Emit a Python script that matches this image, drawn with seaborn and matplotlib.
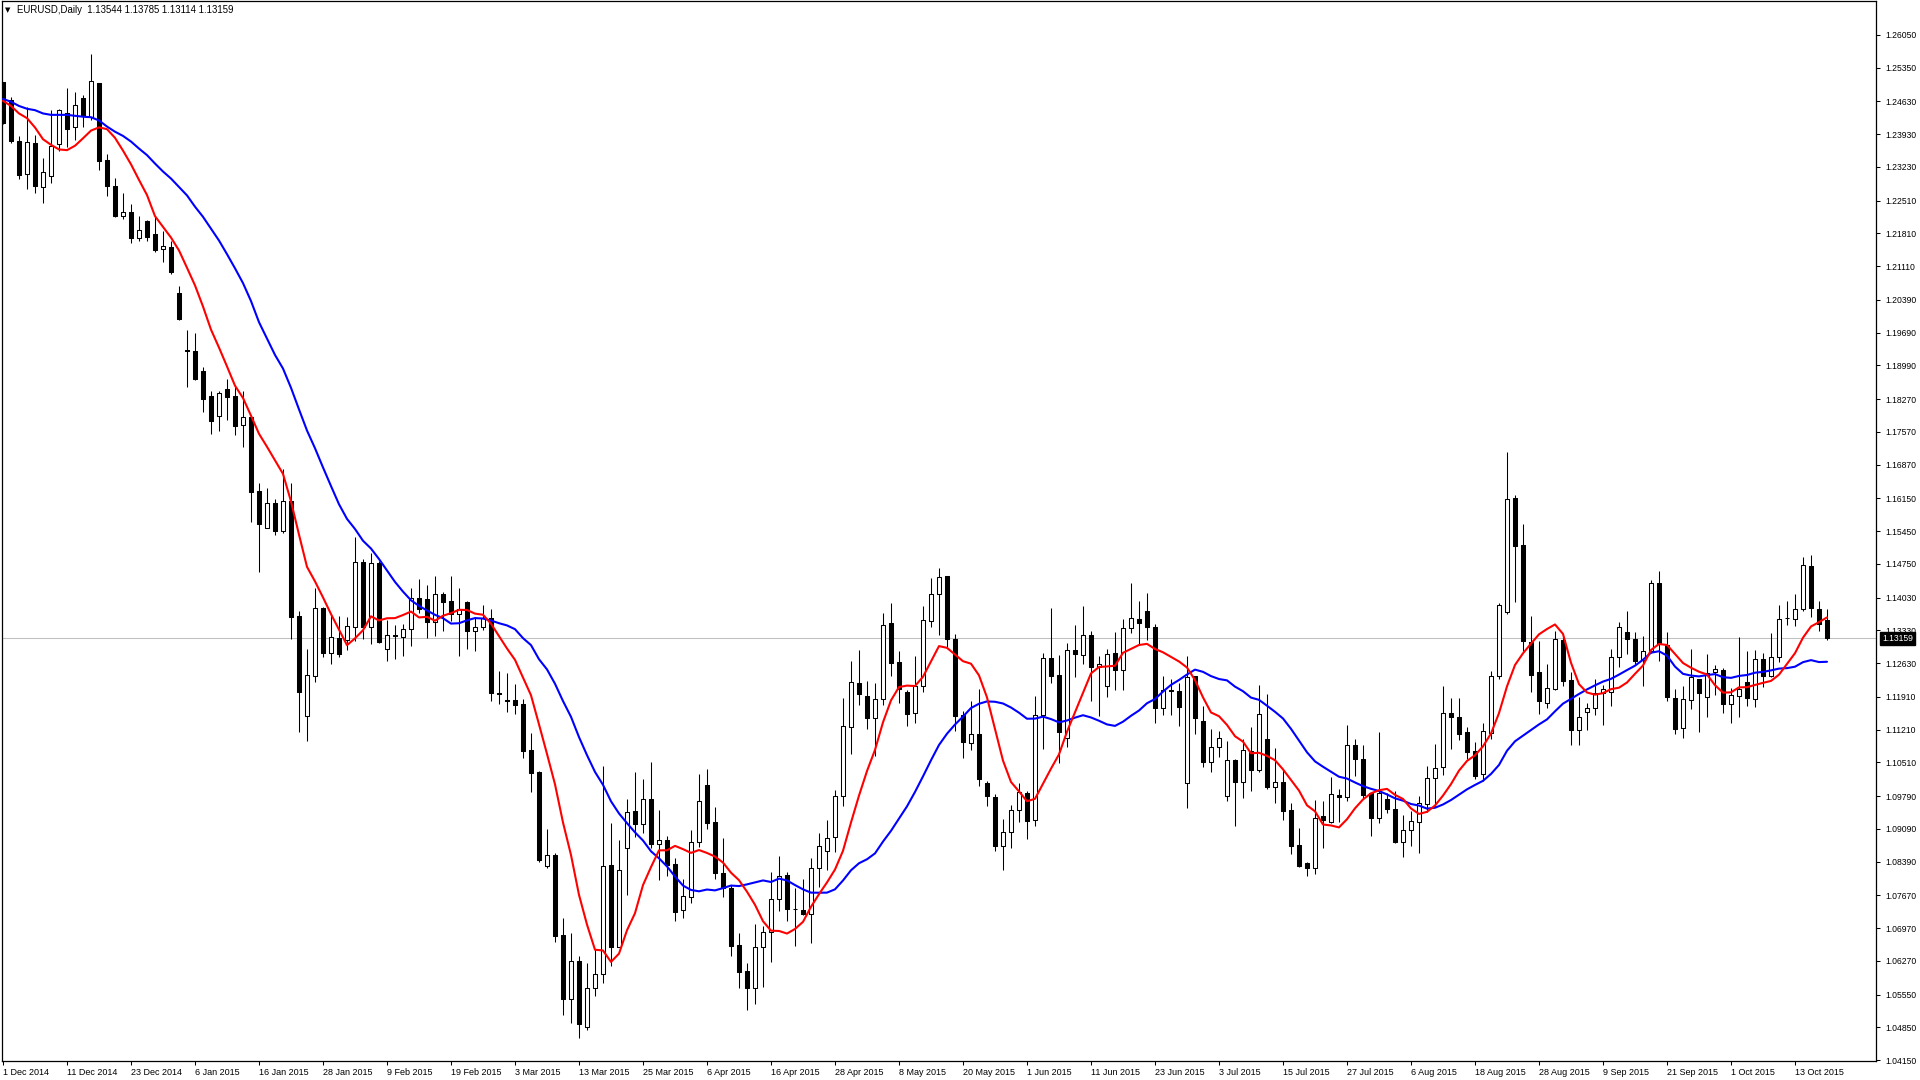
import numpy as np
import pandas as pd
import matplotlib
matplotlib.use("Agg")
import matplotlib.pyplot as plt
import matplotlib.transforms as mtransforms
from matplotlib.patches import Rectangle
from matplotlib.collections import PatchCollection
import seaborn as sns

sns.set_theme(style="white")
plt.rcParams['font.family'] = ['Liberation Sans', 'DejaVu Sans']

symbol_title = "EURUSD,Daily"
holidays = ["2014-12-25", "2015-01-01"]

opens = [
    1.2505, 1.2466, 1.2378, 1.2307, 1.2373, 1.2279, 1.2303, 1.2371, 1.2439, 1.2407,
    1.2469, 1.2429, 1.2503, 1.2338, 1.2282, 1.2219, 1.2226, 1.2170, 1.2207, 1.2179,
    1.2147, 1.2152, 1.2053, 1.1931, 1.1930, 1.1887, 1.1833, 1.1790, 1.1848, 1.1833,
    1.1771, 1.1789, 1.1631, 1.1551, 1.1604, 1.1546, 1.1609, 1.1364, 1.1149, 1.1236,
    1.1381, 1.1285, 1.1316, 1.1312, 1.1339, 1.1478, 1.1341, 1.1476, 1.1294, 1.1322,
    1.1319, 1.1335, 1.1401, 1.1400, 1.1351, 1.1410, 1.1396, 1.1367, 1.1393, 1.1332,
    1.1339, 1.1360, 1.1198, 1.1184, 1.1184, 1.1175, 1.1077, 1.1030, 1.0830, 1.0853,
    1.0682, 1.0545, 1.0627, 1.0486, 1.0568, 1.0598, 1.0832, 1.0657, 1.0867, 1.0947,
    1.0919, 1.0972, 1.0876, 1.0884, 1.0834, 1.0736, 1.0763, 1.0880, 1.1003, 1.0924,
    1.0815, 1.0782, 1.0661, 1.0605, 1.0568, 1.0656, 1.0688, 1.0760, 1.0810, 1.0738,
    1.0736, 1.0726, 1.0825, 1.0862, 1.0891, 1.0978, 1.1127, 1.1220, 1.1193, 1.1145,
    1.1186, 1.1348, 1.1265, 1.1201, 1.1156, 1.1213, 1.1353, 1.1410, 1.1449, 1.1314,
    1.1152, 1.1092, 1.1112, 1.1006, 1.0976, 1.0873, 1.0903, 1.0949, 1.0985, 1.0928,
    1.1152, 1.1273, 1.1237, 1.1102, 1.1291, 1.1280, 1.1322, 1.1255, 1.1214, 1.1284,
    1.1248, 1.1337, 1.1357, 1.1374, 1.1339, 1.1166, 1.1205, 1.1203, 1.1006, 1.1235,
    1.1139, 1.1052, 1.1083, 1.0980, 1.1056, 1.1010, 1.1076, 1.1035, 1.1101, 1.0999,
    1.1010, 1.0949, 1.0874, 1.0835, 1.0825, 1.0936, 1.0924, 1.0981, 1.0976, 1.1088,
    1.1059, 1.0985, 1.0931, 1.0972, 1.0951, 1.0880, 1.0906, 1.0923, 1.0963, 1.1017,
    1.1040, 1.1156, 1.1147, 1.1115, 1.1075, 1.1025, 1.1114, 1.1236, 1.1373, 1.1615,
    1.1515, 1.1308, 1.1243, 1.1177, 1.1208, 1.1312, 1.1227, 1.1120, 1.1158, 1.1166,
    1.1198, 1.1202, 1.1275, 1.1329, 1.1314, 1.1270, 1.1289, 1.1433, 1.1302, 1.1188,
    1.1124, 1.1184, 1.1229, 1.1191, 1.1243, 1.1248, 1.1175, 1.1193, 1.1222, 1.1186,
    1.1271, 1.1236, 1.1275, 1.1359, 1.1357, 1.1378, 1.1470, 1.1378, 1.13544,
]
highs = [
    1.2505, 1.2473, 1.2389, 1.2450, 1.2391, 1.2341, 1.2444, 1.2446, 1.2491, 1.2483,
    1.2476, 1.2565, 1.2503, 1.2350, 1.2300, 1.2268, 1.2244, 1.2218, 1.2209, 1.2215,
    1.2185, 1.2165, 1.2068, 1.1974, 1.1967, 1.1895, 1.1844, 1.1844, 1.1870, 1.1853,
    1.1844, 1.1789, 1.1648, 1.1636, 1.1613, 1.1677, 1.1648, 1.1374, 1.1294, 1.1423,
    1.1383, 1.1366, 1.1364, 1.1362, 1.1532, 1.1485, 1.1499, 1.1480, 1.1356, 1.1344,
    1.1346, 1.1424, 1.1443, 1.1430, 1.1449, 1.1414, 1.1449, 1.1424, 1.1396, 1.1360,
    1.1388, 1.1378, 1.1246, 1.1242, 1.1218, 1.1186, 1.1113, 1.1032, 1.0909, 1.0858,
    1.0719, 1.0687, 1.0637, 1.0623, 1.0652, 1.1043, 1.0922, 1.0884, 1.0973, 1.1030,
    1.1015, 1.1051, 1.0949, 1.0894, 1.0846, 1.0802, 1.0906, 1.1027, 1.1036, 1.0955,
    1.0889, 1.0790, 1.0686, 1.0622, 1.0706, 1.0702, 1.0817, 1.0851, 1.0817, 1.0782,
    1.0801, 1.0846, 1.0901, 1.0928, 1.0992, 1.1189, 1.1267, 1.1291, 1.1225, 1.1220,
    1.1371, 1.1392, 1.1289, 1.1205, 1.1278, 1.1384, 1.1444, 1.1465, 1.1449, 1.1325,
    1.1161, 1.1182, 1.1207, 1.1011, 1.0983, 1.0929, 1.0960, 1.1006, 1.0990, 1.1193,
    1.1284, 1.1380, 1.1280, 1.1305, 1.1344, 1.1385, 1.1332, 1.1278, 1.1294, 1.1330,
    1.1357, 1.1435, 1.1396, 1.1412, 1.1346, 1.1235, 1.1229, 1.1220, 1.1278, 1.1235,
    1.1171, 1.1122, 1.1118, 1.1097, 1.1059, 1.1100, 1.1127, 1.1216, 1.1197, 1.1082,
    1.1035, 1.0965, 1.0910, 1.0839, 1.0971, 1.0969, 1.1020, 1.0995, 1.1131, 1.1100,
    1.1087, 1.0985, 1.1115, 1.0985, 1.0990, 1.0938, 1.0946, 1.0979, 1.1043, 1.1090,
    1.1214, 1.1189, 1.1189, 1.1127, 1.1094, 1.1134, 1.1246, 1.1391, 1.1713, 1.1622,
    1.1560, 1.1364, 1.1310, 1.1262, 1.1331, 1.1323, 1.1243, 1.1191, 1.1178, 1.1229,
    1.1216, 1.1294, 1.1350, 1.1374, 1.1330, 1.1321, 1.1440, 1.1460, 1.1330, 1.1208,
    1.1214, 1.1294, 1.1230, 1.1282, 1.1259, 1.1252, 1.1209, 1.1318, 1.1289, 1.1291,
    1.1284, 1.1328, 1.1387, 1.1396, 1.1411, 1.1490, 1.1494, 1.1396, 1.13785,
]
lows = [
    1.2414, 1.2373, 1.2297, 1.2276, 1.2268, 1.2245, 1.2289, 1.2357, 1.2366, 1.2380,
    1.2409, 1.2423, 1.2316, 1.2261, 1.2216, 1.2212, 1.2161, 1.2165, 1.2165, 1.2140,
    1.2120, 1.2094, 1.1996, 1.1853, 1.1868, 1.1800, 1.1753, 1.1759, 1.1783, 1.1751,
    1.1725, 1.1565, 1.1458, 1.1551, 1.1537, 1.1540, 1.1314, 1.1115, 1.1097, 1.1223,
    1.1275, 1.1260, 1.1277, 1.1291, 1.1311, 1.1314, 1.1303, 1.1306, 1.1268, 1.1272,
    1.1278, 1.1299, 1.1369, 1.1317, 1.1321, 1.1331, 1.1353, 1.1279, 1.1293, 1.1289,
    1.1334, 1.1183, 1.1176, 1.1159, 1.1154, 1.1061, 1.0988, 1.0839, 1.0825, 1.0668,
    1.0511, 1.0495, 1.0463, 1.0479, 1.0552, 1.0580, 1.0615, 1.0656, 1.0768, 1.0891,
    1.0901, 1.0867, 1.0800, 1.0808, 1.0713, 1.0719, 1.0751, 1.0871, 1.0909, 1.0802,
    1.0764, 1.0638, 1.0568, 1.0521, 1.0534, 1.0572, 1.0625, 1.0734, 1.0713, 1.0659,
    1.0725, 1.0666, 1.0785, 1.0820, 1.0860, 1.0958, 1.1069, 1.1173, 1.1122, 1.1065,
    1.1173, 1.1235, 1.1178, 1.1129, 1.1134, 1.1202, 1.1339, 1.1322, 1.1298, 1.1118,
    1.1061, 1.1077, 1.1001, 1.0958, 1.0862, 1.0820, 1.0869, 1.0924, 1.0887, 1.0916,
    1.1080, 1.1221, 1.1049, 1.1084, 1.1234, 1.1260, 1.1181, 1.1151, 1.1190, 1.1205,
    1.1205, 1.1328, 1.1303, 1.1312, 1.1134, 1.1152, 1.1152, 1.1129, 1.0954, 1.1111,
    1.1042, 1.1031, 1.1063, 1.0969, 1.0916, 1.0974, 1.0990, 1.1030, 1.0995, 1.0965,
    1.0928, 1.0855, 1.0827, 1.0809, 1.0812, 1.0869, 1.0922, 1.0923, 1.0969, 1.1022,
    1.0974, 1.0894, 1.0921, 1.0942, 1.0879, 1.0848, 1.0873, 1.0857, 1.0944, 1.0956,
    1.1024, 1.1079, 1.1099, 1.1059, 1.1015, 1.1012, 1.1100, 1.1228, 1.1367, 1.1394,
    1.1289, 1.1202, 1.1154, 1.1168, 1.1205, 1.1214, 1.1087, 1.1088, 1.1120, 1.1152,
    1.1131, 1.1171, 1.1254, 1.1282, 1.1262, 1.1213, 1.1284, 1.1268, 1.1181, 1.1111,
    1.1104, 1.1164, 1.1116, 1.1147, 1.1195, 1.1157, 1.1134, 1.1148, 1.1171, 1.1170,
    1.1211, 1.1233, 1.1266, 1.1344, 1.1343, 1.1375, 1.1362, 1.1332, 1.13114,
]
closes = [
    1.2416, 1.2379, 1.2305, 1.2375, 1.2281, 1.2313, 1.2368, 1.2444, 1.2404, 1.2454,
    1.2432, 1.2507, 1.2336, 1.2283, 1.2219, 1.2226, 1.2170, 1.2187, 1.2174, 1.2146,
    1.2154, 1.2099, 1.1999, 1.1930, 1.1869, 1.1826, 1.1779, 1.1839, 1.1832, 1.1770,
    1.1789, 1.1628, 1.1559, 1.1604, 1.1546, 1.1609, 1.1362, 1.1202, 1.1238, 1.1380,
    1.1285, 1.1319, 1.1282, 1.1342, 1.1478, 1.1341, 1.1476, 1.1309, 1.1323, 1.1321,
    1.1335, 1.1401, 1.1378, 1.1351, 1.1410, 1.1394, 1.1367, 1.1378, 1.1332, 1.1339,
    1.1359, 1.1198, 1.1197, 1.1183, 1.1173, 1.1076, 1.1029, 1.0842, 1.0853, 1.0679,
    1.0545, 1.0627, 1.0492, 1.0568, 1.0599, 1.0830, 1.0657, 1.0821, 1.0944, 1.0919,
    1.0972, 1.0876, 1.0884, 1.0832, 1.0732, 1.0765, 1.0880, 1.0968, 1.0922, 1.0814,
    1.0782, 1.0659, 1.0604, 1.0568, 1.0656, 1.0688, 1.0760, 1.0809, 1.0738, 1.0737,
    1.0726, 1.0825, 1.0872, 1.0889, 1.0980, 1.1129, 1.1222, 1.1196, 1.1146, 1.1186,
    1.1344, 1.1264, 1.1207, 1.1154, 1.1214, 1.1355, 1.1410, 1.1446, 1.1314, 1.1149,
    1.1094, 1.1111, 1.1015, 1.0978, 1.0873, 1.0903, 1.0949, 1.0988, 1.0926, 1.1152,
    1.1273, 1.1236, 1.1116, 1.1291, 1.1282, 1.1322, 1.1255, 1.1262, 1.1282, 1.1248,
    1.1337, 1.1359, 1.1348, 1.1341, 1.1168, 1.1205, 1.1203, 1.1170, 1.1234, 1.1145,
    1.1052, 1.1083, 1.1104, 1.1056, 1.1010, 1.1077, 1.1035, 1.1154, 1.0999, 1.1009,
    1.0948, 1.0873, 1.0830, 1.0825, 1.0933, 1.0928, 1.0983, 1.0976, 1.1088, 1.1059,
    1.0981, 1.0931, 1.0985, 1.0951, 1.0881, 1.0906, 1.0926, 1.0965, 1.1017, 1.1038,
    1.1156, 1.1147, 1.1111, 1.1072, 1.1022, 1.1118, 1.1236, 1.1387, 1.1613, 1.1512,
    1.1311, 1.1237, 1.1181, 1.1209, 1.1314, 1.1225, 1.1120, 1.1147, 1.1168, 1.1200,
    1.1207, 1.1277, 1.1339, 1.1314, 1.1268, 1.1289, 1.1433, 1.1303, 1.1190, 1.1122,
    1.1186, 1.1233, 1.1200, 1.1242, 1.1250, 1.1176, 1.1195, 1.1207, 1.1189, 1.1271,
    1.1236, 1.1275, 1.1357, 1.1360, 1.1378, 1.1472, 1.1380, 1.1346, 1.13159,
]

# Moving-average values at the left edge (they depend on history before the chart)
ma_fast_head = [1.2464, 1.2453, 1.2437, 1.2427, 1.2407, 1.2382, 1.2370]
ma_slow_head = [1.2468, 1.2462, 1.2453, 1.2447, 1.2444, 1.2437, 1.2434, 1.2434,
                1.2434, 1.2432, 1.2430, 1.2429, 1.2422, 1.2409, 1.2398, 1.2389,
                1.2377, 1.2362, 1.2348, 1.2330]
fast_period = 8
slow_period = 21

price_ticks = [1.26050, 1.25350, 1.24630, 1.23930, 1.23230, 1.22510, 1.21810,
               1.21110, 1.20390, 1.19690, 1.18990, 1.18270, 1.17570, 1.16870,
               1.16150, 1.15450, 1.14750, 1.14030, 1.13330, 1.12630, 1.11910,
               1.11210, 1.10510, 1.09790, 1.09090, 1.08390, 1.07670, 1.06970,
               1.06270, 1.05550, 1.04850, 1.04150]
date_labels = ['1 Dec 2014', '11 Dec 2014', '23 Dec 2014', '6 Jan 2015', '16 Jan 2015',
               '28 Jan 2015', '9 Feb 2015', '19 Feb 2015', '3 Mar 2015', '13 Mar 2015',
               '25 Mar 2015', '6 Apr 2015', '16 Apr 2015', '28 Apr 2015', '8 May 2015',
               '20 May 2015', '1 Jun 2015', '11 Jun 2015', '23 Jun 2015', '3 Jul 2015',
               '15 Jul 2015', '27 Jul 2015', '6 Aug 2015', '18 Aug 2015', '28 Aug 2015',
               '9 Sep 2015', '21 Sep 2015', '1 Oct 2015', '13 Oct 2015']
label_every = 8

dates = pd.bdate_range("2014-12-01", periods=len(closes), freq="C", holidays=holidays)
df = pd.DataFrame({"date": dates, "open": opens, "high": highs, "low": lows, "close": closes})
df["x"] = np.arange(len(df))
fast = df["close"].rolling(fast_period).mean()
fast.iloc[:fast_period - 1] = ma_fast_head
slow = df["close"].rolling(slow_period).mean()
slow.iloc[:slow_period - 1] = ma_slow_head
df["ma_fast"] = fast
df["ma_slow"] = slow

W, H = 1920, 1080
fig = plt.figure(figsize=(W / 100, H / 100), dpi=100, facecolor="white")
ax_left, ax_right, ax_top, ax_bottom = 2, 1876, 1, 1061
ax = fig.add_axes([ax_left / W, (H - ax_bottom) / H, (ax_right - ax_left) / W, (ax_bottom - ax_top) / H])
ax.set_facecolor("white")

# bid line
last_close = closes[-1]
ax.axhline(last_close, color="#C0C0C0", linewidth=0.75, zorder=1)

x = df["x"].to_numpy()
o = df["open"].to_numpy(); h = df["high"].to_numpy()
l = df["low"].to_numpy(); c = df["close"].to_numpy()
ax.vlines(x, l, h, colors="black", linewidth=0.75, zorder=2)
bw = 0.5
rects, faces = [], []
for xi, oi, ci in zip(x, o, c):
    bottom = min(oi, ci)
    height = max(abs(ci - oi), 0.00002)
    rects.append(Rectangle((xi - bw / 2, bottom), bw, height))
    faces.append("white" if ci > oi else "black")
pc = PatchCollection(rects, facecolors=faces, edgecolors="black", linewidths=0.75, zorder=3)
ax.add_collection(pc)

sns.lineplot(data=df, x="x", y="ma_slow", color="#0000FF", linewidth=1.5, ax=ax, zorder=4, legend=False)
sns.lineplot(data=df, x="x", y="ma_fast", color="#FF0000", linewidth=1.5, ax=ax, zorder=5, legend=False)

px_per_bar = 8.0
first_bar_px = 3.0
ax.set_xlim((ax_left - first_bar_px) / px_per_bar, (ax_right - first_bar_px) / px_per_bar)
ax.set_ylim(1.04130, 1.26772)
ax.set_xlabel("")
ax.set_ylabel("")

ax.yaxis.tick_right()
ax.set_yticks(price_ticks)
ax.set_yticklabels([f"{p:.5f}" for p in price_ticks])
ax.set_xticks(np.arange(0, label_every * len(date_labels), label_every))
ax.set_xticklabels(date_labels, ha="left")
ax.tick_params(axis="y", direction="out", length=3, width=0.75, pad=4, labelsize=6.2,
               colors="black", left=False, right=True)
ax.tick_params(axis="x", direction="out", length=3, width=0.75, pad=2, labelsize=6.5,
               colors="black", bottom=True)
for side in ["left", "right", "bottom", "top"]:
    ax.spines[side].set_visible(True)
    ax.spines[side].set_color("black")
    ax.spines[side].set_linewidth(0.9)
ax.grid(False)

# bid price box
trans = mtransforms.blended_transform_factory(ax.transAxes, ax.transData)
ax.text(1.0, last_close, f"{last_close:.5f}", transform=trans + mtransforms.ScaledTranslation(6 / 100, 0, fig.dpi_scale_trans),
        ha="left", va="center", fontsize=6.2, color="white", zorder=10, clip_on=False,
        bbox=dict(boxstyle="square,pad=0.25", facecolor="black", edgecolor="black"))

# header
header = f"{symbol_title}  {opens[-1]:.5f} {highs[-1]:.5f} {lows[-1]:.5f} {closes[-1]:.5f}"
fig.text(5 / W, 1 - 10 / H, "\u25BC", fontsize=5, va="center", ha="left", color="black",
         family=["DejaVu Sans"])
fig.text(17 / W, 1 - 10 / H, header, fontsize=6.9, va="center", ha="left", color="black")

fig.savefig("out.png", dpi=100, facecolor="white")
